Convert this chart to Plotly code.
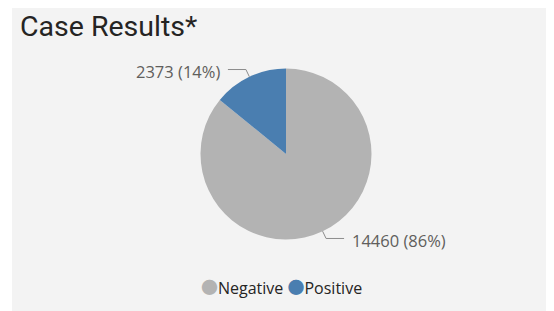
import math
import plotly.graph_objects as go

# ---- data ----
labels = ["Negative", "Positive"]
values = [14460, 2373]
colors = ["#b3b3b3", "#4a7eb0"]
title_text = "Case Results*"

# ---- layout geometry (screen pixels; the page body adds an 8px offset) ----
OFF = 8
W, H = 554 - OFF, 311 - OFF
CX, CY, R = 286, 154, 85.5
ELBOW, HLEN, GAP = 8, 18, 6
LABEL_COLOR = "#605e5c"
LINE_COLOR = "#8c8c8c"
FONT = "Open Sans"


def px(x):
    return (x - OFF) / W


def py(y):
    return 1 - (y - OFF) / H


fig = go.Figure()
fig.add_trace(go.Pie(
    labels=labels,
    values=values,
    marker=dict(colors=colors, line=dict(width=0)),
    sort=False,
    direction="clockwise",
    rotation=0,
    textinfo="none",
    hoverinfo="label+value+percent",
    showlegend=False,
    domain=dict(x=[px(CX - R), px(CX + R)], y=[py(CY + R), py(CY - R)]),
))

# leader lines + labels, derived from the values
total = sum(values)
shapes = [dict(type="rect", xref="paper", yref="paper", x0=px(12), x1=px(553),
               y0=0, y1=1, fillcolor="#f3f3f3", line=dict(width=0), layer="below")]
annotations = []
cum = 0
for lab, val in zip(labels, values):
    mid = (cum + val / 2) / total * 2 * math.pi
    cum += val
    s, c = math.sin(mid), math.cos(mid)
    p0 = (CX + R * s, CY - R * c)
    p1 = (CX + (R + ELBOW) * s, CY - (R + ELBOW) * c)
    side = 1 if s >= 0 else -1
    p2 = (p1[0] + side * HLEN, p1[1])
    path = "M {} {} L {} {} L {} {}".format(px(p0[0]), py(p0[1]), px(p1[0]), py(p1[1]),
                                            px(p2[0]), py(p2[1]))
    shapes.append(dict(type="path", xref="paper", yref="paper", path=path,
                       line=dict(color=LINE_COLOR, width=1)))
    pct = round(val / total * 100)
    annotations.append(dict(
        xref="paper", yref="paper", x=px(p2[0] + side * GAP), y=py(p2[1] + 2),
        xanchor="left" if side > 0 else "right", yanchor="middle",
        text=f"{val} ({pct}%)", showarrow=False,
        font=dict(family=FONT, size=16.5, color=LABEL_COLOR),
    ))

# legend row with circle markers
legend_parts = []
for lab, col in zip(labels, colors):
    legend_parts.append(
        f"<span style='color:{col};font-family:\"Noto Sans CJK JP\";font-size:17px'>●</span>{lab}")
annotations.append(dict(
    xref="paper", yref="paper", x=px(281), y=py(286), xanchor="center", yanchor="middle",
    text=" ".join(legend_parts), showarrow=False,
    font=dict(family=FONT, size=16, color="#252423"),
))

# title
annotations.append(dict(
    xref="paper", yref="paper", x=px(19), y=py(26), xanchor="left", yanchor="middle",
    text=title_text, showarrow=False, borderpad=0,
    font=dict(family="Roboto", size=28.5, color="#252423"),
))

fig.update_layout(
    width=W, height=H,
    margin=dict(l=0, r=0, t=0, b=0),
    paper_bgcolor="white",
    plot_bgcolor="white",
    shapes=shapes,
    annotations=annotations,
    showlegend=False,
)

fig.write_html("out.html")
